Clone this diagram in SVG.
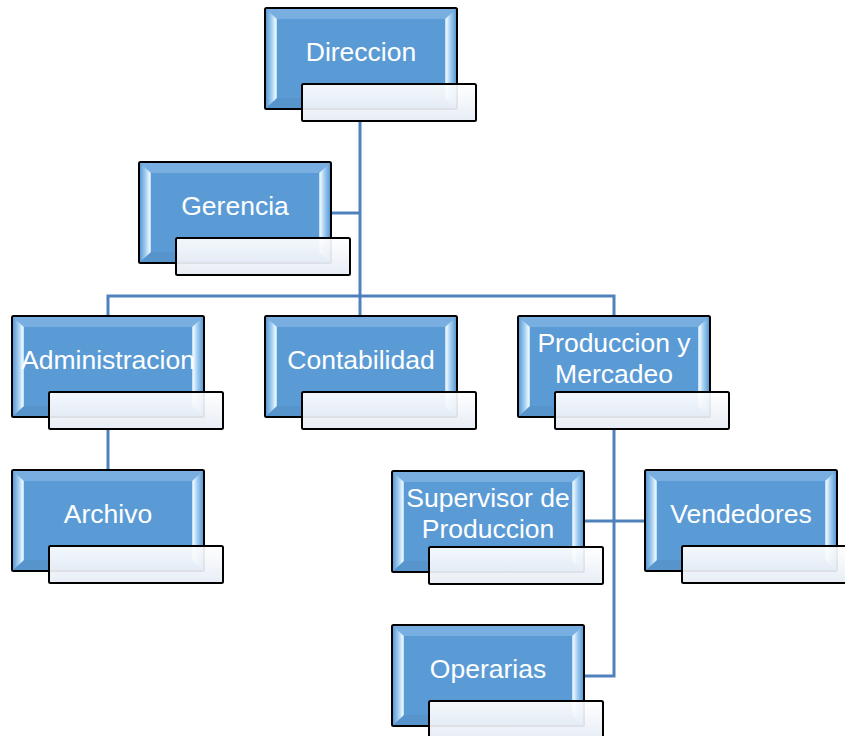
<svg xmlns="http://www.w3.org/2000/svg" xmlns:xlink="http://www.w3.org/1999/xlink" width="845" height="736" viewBox="0 0 845 736">
<defs>
<linearGradient id="lg" x1="0" y1="0" x2="1" y2="0">
<stop offset="0" stop-color="#5b9bd5"/><stop offset="0.55" stop-color="#a9d2f2"/><stop offset="0.85" stop-color="#eaf6ff"/><stop offset="1" stop-color="#b5d8f4"/>
</linearGradient>
<linearGradient id="rg" x1="1" y1="0" x2="0" y2="0">
<stop offset="0" stop-color="#5b9bd5"/><stop offset="0.55" stop-color="#a9d2f2"/><stop offset="0.85" stop-color="#eaf6ff"/><stop offset="1" stop-color="#b5d8f4"/>
</linearGradient>
<linearGradient id="wg" x1="0" y1="0" x2="0" y2="1">
<stop offset="0" stop-color="#ffffff"/><stop offset="1" stop-color="#e6ecf5"/>
</linearGradient>
<symbol id="box" overflow="visible">
<rect x="0" y="0" width="192" height="101" fill="#5b9bd5" stroke="#000" stroke-width="2" rx="1.5"/>
<polygon points="1,1 191,1 180,11 12,11" fill="#78afe0"/>
<polygon points="1,100 191,100 180,90 12,90" fill="#5794cc"/>
<polygon points="1,1 12,11 12,90 1,100" fill="url(#lg)"/>
<polygon points="191,1 180,11 180,90 191,100" fill="url(#rg)"/>
<rect x="37" y="76" width="174" height="37" fill="url(#wg)" fill-opacity="0.93" stroke="#000" stroke-width="2" rx="1.5"/>
</symbol>
<style>
.t{font-family:"Liberation Sans",Arial,sans-serif;font-size:26.5px;fill:#fff;text-anchor:middle}
.c{fill:none;stroke:#4f81bd;stroke-width:3}
</style>
</defs>
<rect width="845" height="736" fill="#fff"/>
<g id="connectors">
<path class="c" d="M360,121 V296"/>
<path class="c" d="M332,213 H360"/>
<path class="c" d="M108,316 V296 H614 V316"/>
<path class="c" d="M360,296 V316"/>
<path class="c" d="M108,429 V470"/>
<path class="c" d="M614,429 V676 H584"/>
<path class="c" d="M584,521 H645"/>
</g>
<g id="direccion" transform="translate(265,8)"><use xlink:href="#box"/><text class="t" x="96" y="53">Direccion</text></g>
<g id="gerencia" transform="translate(139,162)"><use xlink:href="#box"/><text class="t" x="96" y="53">Gerencia</text></g>
<g id="administracion" transform="translate(12,316)"><use xlink:href="#box"/><text class="t" x="96" y="53">Administracion</text></g>
<g id="contabilidad" transform="translate(265,316)"><use xlink:href="#box"/><text class="t" x="96" y="53">Contabilidad</text></g>
<g id="produccion" transform="translate(518,316)"><use xlink:href="#box"/><text class="t" x="96" y="36">Produccion y</text><text class="t" x="96" y="67">Mercadeo</text></g>
<g id="archivo" transform="translate(12,470)"><use xlink:href="#box"/><text class="t" x="96" y="53">Archivo</text></g>
<g id="supervisor" transform="translate(392,471)"><use xlink:href="#box"/><text class="t" x="96" y="36">Supervisor de</text><text class="t" x="96" y="67">Produccion</text></g>
<g id="vendedores" transform="translate(645,470)"><use xlink:href="#box"/><text class="t" x="96" y="53">Vendedores</text></g>
<g id="operarias" transform="translate(392,625)"><use xlink:href="#box"/><text class="t" x="96" y="53">Operarias</text></g>
</svg>
